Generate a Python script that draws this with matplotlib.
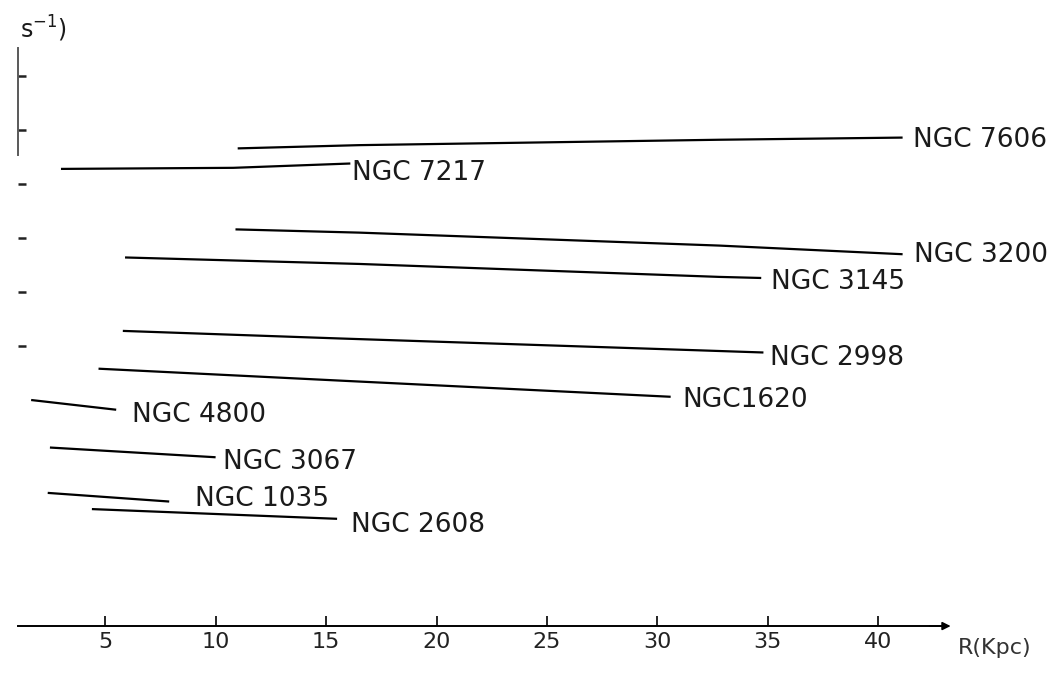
"""Flat rotation curves of ten spiral galaxies, redrawn from a scanned figure."""
import matplotlib
matplotlib.use("Agg")
import matplotlib.pyplot as plt

# radius (kpc) and rotation velocity (arbitrary offset units)
names = ["NGC 7606", "NGC 7217", "NGC 3200", "NGC 3145", "NGC 2998",
         "NGC1620", "NGC 4800", "NGC 3067", "NGC 1035", "NGC 2608"]
radius = [
    [11.0, 16.5, 32.8, 41.1],
    [3.0, 10.8, 16.1],
    [10.9, 16.5, 32.8, 41.1],
    [5.9, 16.5, 32.8, 34.7],
    [5.8, 15.6, 31.9, 34.8],
    [4.7, 15.6, 30.6],
    [1.65, 5.5],
    [2.5, 10.0],
    [2.4, 7.9],
    [4.4, 15.5],
]
velocity = [
    [433, 436, 441, 443],
    [414, 415, 419],
    [358, 355, 343, 335],
    [332, 326, 314, 313],
    [264, 257, 246, 244],
    [229, 218, 203],
    [200, 191],
    [156, 147],
    [114, 106],
    [99, 90],
]
x_ticks = [5, 10, 15, 20, 25, 30, 35, 40]
y_ticks = [250, 300, 350, 400, 450, 500]

# label offsets (pixels) from the outer end of each curve
label_offsets = [(10, -2), (2, -9), (11, -1), (10, -4), (7, -6),
                 (12, -3), (16, -5), (7, -5), (26, 3), (14, -6)]

fig = plt.figure(figsize=(10.59, 6.74), dpi=100)
ax = fig.add_axes([0, 0, 1, 1])
ax.set_xlim(0.24, 48.18)
ax.set_ylim(-53.7, 570.4)

for r, v, name, off in zip(radius, velocity, names, label_offsets):
    ax.plot(r, v, color="black", lw=1.6, solid_capstyle="butt")
    ax.annotate(name, xy=(r[-1], v[-1]), xytext=off, textcoords="offset pixels",
                ha="left", va="center", fontsize=19, color="#1a1a1a")

# axes drawn like the hand-made originals
for side in ["top", "right"]:
    ax.spines[side].set_visible(False)
ax.spines["bottom"].set_position(("data", -9.3))
ax.spines["bottom"].set_bounds(1.06, 43.0)
ax.spines["bottom"].set_linewidth(1.4)
ax.spines["left"].set_position(("data", 1.06))
ax.spines["left"].set_bounds(427, 526)
ax.spines["left"].set_color("0.35")
ax.spines["left"].set_linewidth(1.4)

ax.set_xticks(x_ticks)
ax.set_xticklabels([str(t) for t in x_ticks])
ax.tick_params(axis="x", direction="in", length=7, width=1.2, pad=4,
               labelsize=16, labelcolor="#222222")
ax.set_yticks(y_ticks)
ax.set_yticklabels([])
ax.tick_params(axis="y", direction="in", length=6, width=1.8, color="#222222")

ax.annotate("", xy=(43.4, -9.3), xytext=(42.2, -9.3),
            arrowprops=dict(arrowstyle="-|>", color="black", lw=1.2,
                            mutation_scale=12))
ax.text(43.6, -29.6, "R(Kpc)", ha="left", va="center", fontsize=16, color="#333333")
ax.text(1.15, 544, "s$^{-1}$)", ha="left", va="center", fontsize=17, color="#1a1a1a")

fig.savefig("out.png", dpi=100)
